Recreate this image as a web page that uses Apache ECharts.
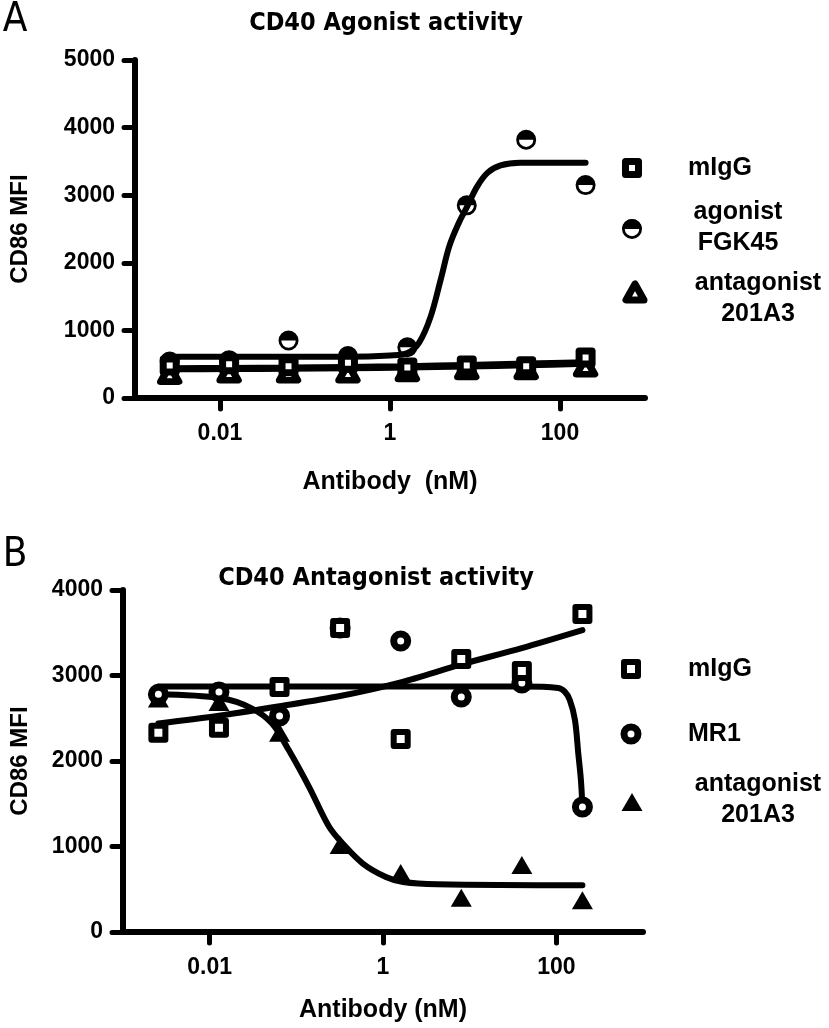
<!DOCTYPE html>
<html>
<head>
<meta charset="utf-8">
<script src="https://cdn.jsdelivr.net/npm/echarts@6/dist/echarts.min.js"></script>
<style>html,body{margin:0;padding:0;background:#fff}#c{width:829px;height:1028px}</style>
</head>
<body>
<div id="c"></div>
<script>
// ---------- shared ----------
const conc = [0.00256, 0.0128, 0.064, 0.32, 1.6, 8, 40, 200];
const xTickValues = [0.01, 1, 100];
const xTickLabels = ['0.01', '1', '100'];

// ---------- Panel A : CD40 Agonist activity ----------
const aMigG   = [480, 500, 470, 520, 450, 480, 470, 600];
const aFGK45  = [540, 560, 850, 620, 750, 2850, 3820, 3150];
const aAntag  = [360, 380, 380, 380, 400, 430, 430, 470];
// fitted curves
const aFitFGKx = [0.00256, 0.3, 1.0, 1.6, 2.2, 3.0, 4.0, 5.0, 6.5, 8.0, 10.5, 14, 20, 34, 200];
const aFitFGKy = [612, 612, 630, 665, 820, 1200, 1780, 2250, 2600, 2820, 3120, 3330, 3440, 3480, 3480];
const aFitMigGy  = [440, 445, 450, 460, 470, 490, 510, 530];
const aFitAntagy = [425, 428, 432, 440, 450, 465, 485, 505];

// ---------- Panel B : CD40 Antagonist activity ----------
const bMigG  = [2330, 2390, 2865, 3556, 2257, 3193, 3053, 3719];
const bMR1   = [2780, 2807, 2526, 3556, 3404, 2749, 2912, 1462];
const bAntag = [2730, 2690, 2330, 1017, 690, 400, 784, 370];
const bFitMigGy = [2440, 2530, 2640, 2760, 2920, 3130, 3320, 3530];
const bFitMR1x = [0.00256, 1, 40, 105, 125, 143, 164, 179, 192, 200];
const bFitMR1y = [2870, 2870, 2870, 2854, 2811, 2713, 2480, 2092, 1780, 1462];
const bFitAntx = [0.00256, 0.0137, 0.0305, 0.0522, 0.0817, 0.14, 0.239, 0.342, 0.585, 1.08, 1.71, 4.2, 200];
const bFitAnty = [2780, 2733, 2616, 2440, 2128, 1698, 1230, 1035, 801, 644, 585, 558, 547];

const pair = (xs, ys) => xs.map((x, i) => [x, ys[i]]);

const FONT = "'Liberation Sans', Arial, sans-serif";
const NARROW = "'Liberation Sans Narrow', 'DejaVu Sans Condensed', 'Liberation Sans', sans-serif";
const HALF_CIRCLE = 'path://M0,10A10,10,0,1,1,20,10A10,10,0,1,1,0,10Z M17.2,10L2.8,10A7.2,7.2,0,0,0,17.2,10Z';

function xAxisCfg(gridIndex, name, gap) {
  return {
    type: 'log', logBase: 10, gridIndex, min: 0.001, max: 1000,
    name, nameLocation: 'middle', nameGap: gap,
    nameTextStyle: {fontFamily: FONT, fontWeight: 'bold', fontSize: 25, color: '#000'},
    axisLine: {show: true, lineStyle: {color: '#000', width: 6, cap: 'round'}},
    axisTick: {show: true, length: 11, customValues: xTickValues, lineStyle: {color: '#000', width: 5, cap: 'round'}},
    minorTick: {show: false},
    axisLabel: {
      customValues: xTickValues, margin: 24, color: '#000', fontFamily: FONT, fontWeight: 'bold', fontSize: 23,
      formatter: v => {
        let best = 0;
        xTickValues.forEach((t, i) => { if (Math.abs(Math.log10(t) - Math.log10(v)) < Math.abs(Math.log10(xTickValues[best]) - Math.log10(v))) best = i; });
        return xTickLabels[best];
      }
    },
    splitLine: {show: false}
  };
}
function yAxisCfg(gridIndex, max, gap) {
  return {
    type: 'value', gridIndex, min: 0, max, interval: 1000,
    name: 'CD86 MFI', nameLocation: 'middle', nameGap: gap,
    nameTextStyle: {fontFamily: FONT, fontWeight: 'bold', fontSize: 24, color: '#000'},
    axisLine: {show: true, lineStyle: {color: '#000', width: 6, cap: 'round'}},
    axisTick: {show: true, length: 11, lineStyle: {color: '#000', width: 5, cap: 'round'}},
    axisLabel: {margin: 20, color: '#000', fontFamily: FONT, fontWeight: 'bold', fontSize: 23, formatter: v => String(v)},
    splitLine: {show: false}
  };
}
function fitLine(xi, yi, data, smooth) {
  return {type: 'line', xAxisIndex: xi, yAxisIndex: yi, data, showSymbol: false, symbol: 'none',
    smooth: smooth, lineStyle: {color: '#000', width: 6, cap: 'round', opacity: 1}, silent: true, z: 2};
}
function scatter(xi, yi, data, symbol, size, itemStyle) {
  return {type: 'scatter', xAxisIndex: xi, yAxisIndex: yi, data, symbol, symbolSize: size,
    itemStyle, silent: true, z: 3};
}

const hollow = (bw) => ({color: '#fff', borderColor: '#000', borderWidth: bw, borderJoin: 'round', opacity: 1});
const solid = {color: '#000', opacity: 1};

const legendText = (x, y, text, align) => ({
  type: 'text', x, y,
  style: {text, fill: '#000', font: "bold 25px 'Liberation Sans', Arial, sans-serif", align: align || 'left', verticalAlign: 'middle', lineHeight: 31}
});

const chart = echarts.init(document.getElementById('c'), null, {renderer: 'canvas'});
chart.setOption({
  animation: false,
  backgroundColor: '#fff',
  grid: [
    {left: 135, top: 60, width: 510, height: 338, outerBoundsMode: 'none'},
    {left: 123, top: 590, width: 520, height: 342, outerBoundsMode: 'none'}
  ],
  xAxis: [xAxisCfg(0, 'Antibody  (nM)', 72), xAxisCfg(1, 'Antibody (nM)', 66)],
  yAxis: [yAxisCfg(0, 5000, 103), yAxisCfg(1, 4000, 91)],
  series: [
    // Panel A fits
    fitLine(0, 0, pair(conc, aFitMigGy), 0.3),
    fitLine(0, 0, pair(conc, aFitAntagy), 0.3),
    fitLine(0, 0, pair(aFitFGKx, aFitFGKy), 0.35),
    // Panel A points
    scatter(0, 0, pair(conc, aFGK45), HALF_CIRCLE, 20, solid),
    scatter(0, 0, pair(conc, aAntag), 'triangle', [18, 16], hollow(7)),
    scatter(0, 0, pair(conc, aMigG), 'rect', 13, hollow(7)),
    // Panel B fits
    fitLine(1, 1, pair(conc, bFitMigGy), 0.3),
    fitLine(1, 1, pair(bFitMR1x, bFitMR1y), 0.35),
    fitLine(1, 1, pair(bFitAntx, bFitAnty), 0.35),
    // Panel B points
    scatter(1, 1, pair(conc, bAntag), 'triangle', [21, 18], solid),
    scatter(1, 1, pair(conc, bMR1), 'circle', 14, hollow(7)),
    scatter(1, 1, pair(conc, bMigG), 'rect', 14, hollow(6))
  ],
  graphic: [
    // panel letters and titles
    {type: 'text', x: 15, y: 21, style: {text: 'A', fill: '#000', font: "40px " + NARROW, align: 'center', verticalAlign: 'middle'}},
    {type: 'text', x: 15, y: 556, style: {text: 'B', fill: '#000', font: "40px " + NARROW, align: 'center', verticalAlign: 'middle'}},
    {type: 'text', x: 386, y: 23, style: {text: 'CD40 Agonist activity', fill: '#000', font: "bold 25px " + NARROW, align: 'center', verticalAlign: 'middle'}},
    {type: 'text', x: 376, y: 578, style: {text: 'CD40 Antagonist activity', fill: '#000', font: "bold 25px " + NARROW, align: 'center', verticalAlign: 'middle'}},
    // legend A
    {type: 'rect', shape: {x: 625.5, y: 161.5, width: 13, height: 13}, style: {fill: '#fff', stroke: '#000', lineWidth: 7, lineJoin: 'round'}},
    {type: 'circle', shape: {cx: 632, cy: 229, r: 8.6}, style: {fill: '#fff', stroke: '#000', lineWidth: 2.8}},
    {type: 'sector', shape: {cx: 632, cy: 229, r0: 0, r: 10, startAngle: Math.PI, endAngle: 2 * Math.PI}, style: {fill: '#000'}},
    {type: 'polygon', shape: {points: [[635, 284], [626, 300], [644, 300]]}, style: {fill: '#fff', stroke: '#000', lineWidth: 7, lineJoin: 'round'}},
    legendText(688, 168, 'mIgG'),
    legendText(738, 228, 'agonist\nFGK45', 'center'),
    legendText(758, 299, 'antagonist\n201A3', 'center'),
    // legend B
    {type: 'rect', shape: {x: 624, y: 662, width: 14, height: 14}, style: {fill: '#fff', stroke: '#000', lineWidth: 6, lineJoin: 'round'}},
    {type: 'circle', shape: {cx: 631, cy: 734, r: 7}, style: {fill: '#fff', stroke: '#000', lineWidth: 7}},
    {type: 'polygon', shape: {points: [[632, 793], [621.5, 811], [642.5, 811]]}, style: {fill: '#000'}},
    legendText(688, 669, 'mIgG'),
    legendText(688, 734, 'MR1'),
    legendText(758, 800, 'antagonist\n201A3', 'center')
  ]
});
</script>
</body>
</html>
